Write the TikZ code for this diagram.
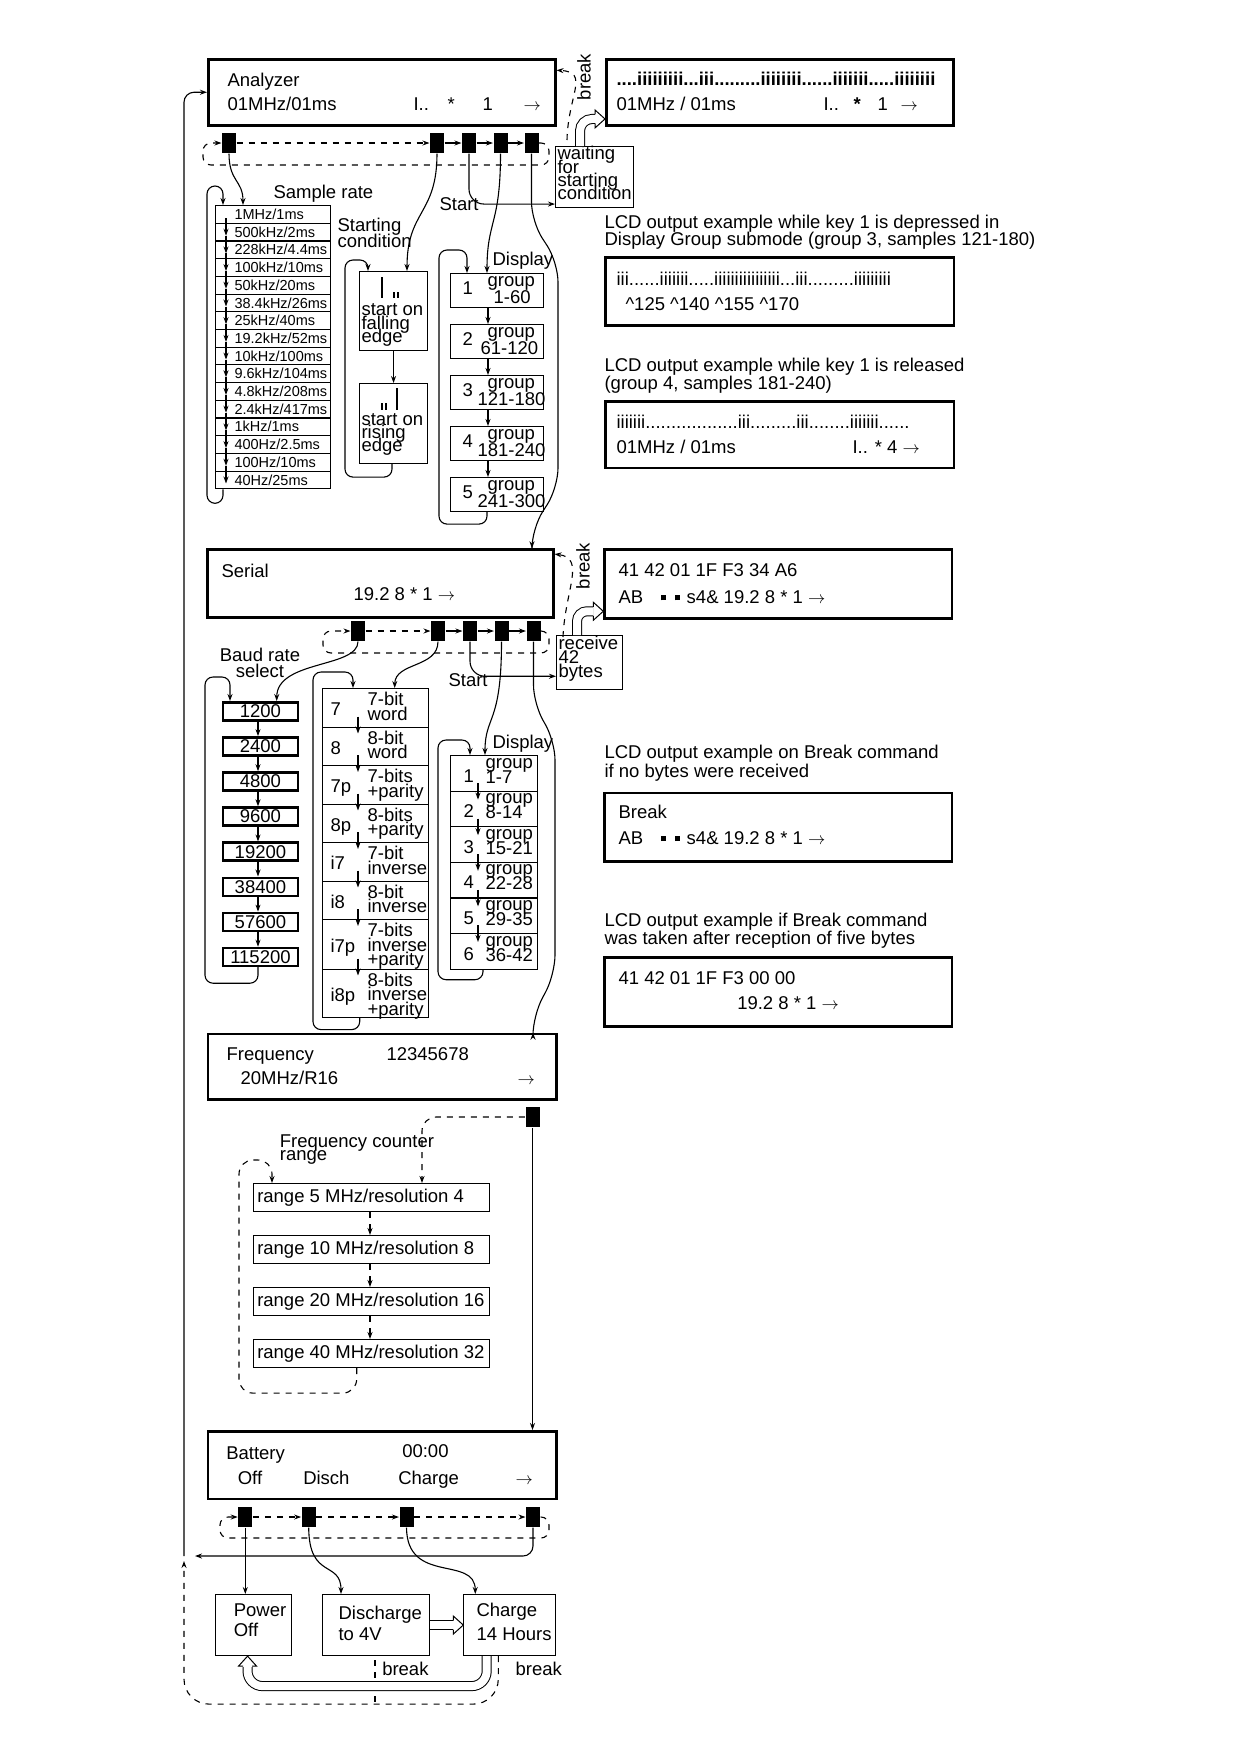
\documentclass[tikz,border=0pt]{standalone}
\usepackage{fontspec}
\setmainfont{Liberation Sans}
\usetikzlibrary{arrows.meta}
\newcommand\tightfont[1]{\fontsize{18.5}{#1}\selectfont\lineskiplimit=-30pt\relax}
\newcommand\hollowtip[2]{\draw[line width=1pt,fill=white,shift={#1},rotate=#2]
  (-10,-4.5) -- (-10,-9) -- (0,0) -- (-10,9) -- (-10,4.5);}
\newcommand\abline{AB\hspace{18pt}\rule[3pt]{5pt}{5pt}\hspace{9pt}\rule[3pt]{5pt}{5pt}\hspace{6.5pt}s4\& 19.2 8 * 1 $\rightarrow$}

\begin{document}
\begin{tikzpicture}[x=1pt,y=-1pt,>={Stealth[length=7pt,width=5pt]},line width=1.1pt,
  font=\fontsize{18.5}{22}\selectfont,
  dashed/.style={dash pattern=on 6pt off 6pt},
  lcd/.style={draw,line width=2.5pt,anchor=north west,inner sep=0pt},
  frm/.style={draw,anchor=north west,inner sep=0pt},
  btn/.style={fill=black,minimum width=14pt,minimum height=20pt,inner sep=0pt},
  lbl/.style={anchor=base west,inner sep=0pt},
  ml/.style={align=left,anchor=north west,inner sep=0pt,font=\tightfont{#1},
    execute at begin node={\rule{0pt}{14pt}}},
  ml/.default=14,
  srow/.style={frm,minimum width=115pt,minimum height=17.7pt,text width=113pt,
    inner xsep=1pt,align=left,font=\fontsize{14.5}{16}\selectfont},
  baud/.style={frm,line width=2.5pt,minimum width=75pt,minimum height=18pt},
  hollow/.style={line width=1pt,double=white,double distance=8pt}]
\useasboundingbox (0,0) rectangle (1246,1741);

% analyzer
\node[lcd,minimum width=347pt,minimum height=66pt] (an) at (207,58) {};
\node[lbl] (an1) at (227,86) {Analyzer};
\node[lbl] (an2) at (227,110) {01MHz/01ms};
\node[lbl] (an3) at (413,110) {I..};
\node[lbl] (an4) at (447,110) {*};
\node[lbl] (an5) at (482,110) {1};
\node[lbl] (an6) at (523,110) {$\rightarrow$};
\foreach \x [count=\i] in {229,437,469,500.5,531.5}
  \node[btn] (ak\i) at (\x,143) {};
\draw[dashed,->,rounded corners=8pt] (ak5.east) -- (549,143) -- (549,165) -- (203,165) -- (203,143) -- (ak1.west);
\draw[dashed,->] (ak1) -- (ak2);
\foreach \i/\j in {2/3,3/4,4/5} \draw[->] (ak\i) -- (ak\j);

\node[lcd,minimum width=347pt,minimum height=66pt] (lcda) at (605,58) {};
\node[lbl,font=\fontsize{18.5}{22}\selectfont\bfseries] (la1) at (616,85) {....iiiiiiiii...iii.........iiiiiiii......iiiiiii.....iiiiiiii};
\node[lbl] (la2) at (616,110) {01MHz / 01ms};
\node[lbl] (la3) at (823,110) {I..};
\node[lbl,font=\fontsize{18.5}{22}\selectfont\bfseries] (la4) at (853,110) {*};
\node[lbl] (la5) at (877,110) {1};
\node[lbl] (la6) at (900,110) {$\rightarrow$};
\node[rotate=90,inner sep=0pt] (bra) at (584,77) {break};
\coordinate (bka) at (567,140);
\draw[dashed,->] (bka) .. controls (568,95) and (590,72) .. ([yshift=22pt]an.east);

\node[frm,minimum width=78pt,minimum height=61pt] (wt) at (555,146) {};
\node[ml=13.3] (wtt) at (557,146) {waiting\\for\\starting\\condition};
\draw[hollow,rounded corners=12pt] ([xshift=25pt]wt.north west) |- ([xshift=-10pt,yshift=-26.7pt]lcda.west);
\hollowtip{([yshift=-26.7pt]lcda.west)}{0}

\node[ml=16.5] (d1) at (604,215) {LCD output example while key 1 is depressed in\\Display Group submode (group 3, samples 121-180)};
\node[lcd,minimum width=348.7pt,minimum height=68pt] (lcdb) at (604,256) {};
\node[lbl] (lb1) at (616,285) {iii......iiiiiii.....iiiiiiiiiiiiiiii...iii.........iiiiiiiii};
\node[lbl] (lb2) at (625,310.7) {\textasciicircum125 \textasciicircum140 \textasciicircum155 \textasciicircum170};
\node[ml=17.5] (d2) at (604,357.7) {LCD output example while key 1 is released\\(group 4, samples 181-240)};
\node[lcd,minimum width=348.7pt,minimum height=66.7pt] (lcdc) at (604,400) {};
\node[lbl] (lc1) at (616,428.3) {iiiiiii..................iii.........iii........iiiiiii......};
\node[lbl] (lc2) at (616,453.3) {01MHz / 01ms};
\node[lbl] (lc3) at (852,453.3) {I.. * 4 $\rightarrow$};

% sample rate
\node[lbl] (srl) at (273,198) {Sample rate};
\foreach \rt [count=\i from 0] in {1MHz/1ms,500kHz/2ms,228kHz/4.4ms,100kHz/10ms,50kHz/20ms,
  38.4kHz/26ms,25kHz/40ms,19.2kHz/52ms,10kHz/100ms,9.6kHz/104ms,4.8kHz/208ms,
  2.4kHz/417ms,1kHz/1ms,400Hz/2.5ms,100Hz/10ms,40Hz/25ms}
  \node[srow] (s\i) at (215,{205+17.7*\i}) {\hspace*{18pt}\rt};
\foreach \i [remember=\i as \j (initially 0)] in {1,...,15}
  \draw[->] ([xshift=11pt,yshift=-13pt]s\j.north west) -- ([xshift=11pt,yshift=-13pt]s\i.north west);
\draw[->,rounded corners=8pt] ([xshift=8pt]s15.south west) -- ++(0,14) -| (207,186) -| ([xshift=8pt]s0.north west);
\draw[->] (ak1.south) .. controls (229,182) and (243,180) .. ([xshift=28pt]s0.north west);

% starting condition
\node[ml=15.6] (scl) at (337,217.7) {Starting\\condition};
\node[frm,minimum width=68pt,minimum height=79pt] (fe) at (359,271) {};
\draw[line width=1.6pt] (382,277) -- (382,298) (394,292) -- (394,298) (398,292) -- (398,298);
\node[ml=13.5] (fet) at (361,303) {start on\\falling\\edge};
\node[frm,minimum width=68pt,minimum height=80pt] (re) at (359,383) {};
\draw[line width=1.6pt] (382,403) -- (382,410) (386,403) -- (386,410) (397,388) -- (397,410);
\node[ml=13.3] (rtx) at (361,412.7) {start on\\rising\\edge};
\draw[->] (fe.south) -- (re.north);
\draw[->,rounded corners=8pt] ([xshift=33pt]re.south west) -- ++(0,13) -| (345,260) -| ([xshift=9pt]fe.north west);
\draw[->] (ak2.south) .. controls (437,215) and (407,210) .. ([xshift=48pt]fe.north west);

% display groups
\node[lbl] (sta) at (439,210.7) {Start};
\draw[->,rounded corners=15pt] (ak3.south) |- ([yshift=-27pt]wt.west);
\node[lbl] (dla) at (492,265) {Display};
\foreach \k/\g/\gx [count=\i] in {1/1-60/493,2/61-120/480,3/121-180/477,4/181-240/477,5/241-300/477}{
  \node[frm,minimum width=93pt,minimum height=34pt] (ag\i) at (450,{273+51*(\i-1)}) {};
  \node[lbl] (agn\i) at (462,{294+51*(\i-1)}) {\k};
  \node[lbl] (agg\i) at (487,{286+51*(\i-1)}) {group};
  \node[lbl] (agr\i) at (\gx,{303+51*(\i-1)}) {\g};
}
\foreach \i [remember=\i as \j (initially 1)] in {2,...,5}
  \draw[->] ([xshift=38pt]ag\j.south west) -- ([xshift=38pt]ag\i.north west);
\draw[->,rounded corners=8pt] ([xshift=37pt]ag5.south west) -- ++(0,12) -| (439,250) -| ([xshift=17pt]ag1.north west);
\draw[->] (ak4.south) .. controls (500.5,225) and (487,220) .. ([xshift=37pt]ag1.north west);

% serial
\node[lcd,minimum width=346pt,minimum height=68pt] (se) at (206,548.3) {};
\node[lbl] (se1) at (221,577.3) {Serial};
\node[lbl] (se2) at (353,600.7) {19.2 8 * 1 $\rightarrow$};
\draw[->,rounded corners=20pt] (ak5.south) -- (531.5,222) -- (558,262) -- (558,488) -- (532,528) -- (se.north -| 532,0);
\foreach \x [count=\i] in {358,438,470,501.5,533.5}
  \node[btn] (sk\i) at (\x,631) {};
\draw[dashed,->,rounded corners=8pt] (sk5.east) -- (549,631) -- (549,653) -- (323,653) -- (323,631) -- (sk1.west);
\draw[dashed,->] (sk1) -- (sk2);
\foreach \i/\j in {2/3,3/4,4/5} \draw[->] (sk\i) -- (sk\j);
\node[rotate=90,inner sep=0pt] (brs) at (583,566) {break};
\coordinate (bks) at (563,637);
\draw[dashed,->] (bks) .. controls (565,590) and (586,558) .. ([yshift=29.5pt]se.east);

\node[frm,minimum width=66pt,minimum height=54pt] (rc) at (556,635) {};
\node[ml=14.3] (rct) at (558,635.3) {receive\\42\\bytes};
\node[lcd,minimum width=347.4pt,minimum height=69pt] (lcdd) at (603.3,548.3) {};
\node[lbl] (ld1) at (618,576) {41 42 01 1F F3 34 A6};
\node[lbl] (ld2) at (618,603.3) {\abline};
\draw[hollow,rounded corners=10pt] ([xshift=21pt]rc.north west) |- ([xshift=-10pt,yshift=-27.2pt]lcdd.west);
\hollowtip{([yshift=-27.2pt]lcdd.west)}{0}

\node[ml=19] (d3) at (604,744.3) {LCD output example on Break command\\if no bytes were received};
\node[lcd,minimum width=347.4pt,minimum height=68.3pt] (lcde) at (603.3,791.7) {};
\node[lbl] (le1) at (618,818.3) {Break};
\node[lbl] (le2) at (618,844) {\abline};
\node[ml=18] (d4) at (604,912.5) {LCD output example if Break command\\was taken after reception of five bytes};
\node[lcd,minimum width=347.4pt,minimum height=69pt] (lcdf) at (603.3,956) {};
\node[lbl] (lf1) at (618,984) {41 42 01 1F F3 00 00};
\node[lbl] (lf2) at (736.7,1009.3) {19.2 8 * 1 $\rightarrow$};

% baud rate
\node[ml=15.6,align=center] (bdl) at (219.3,647.7) {Baud rate\\select};
\foreach \v [count=\i from 0] in {1200,2400,4800,9600,19200,38400,57600,115200}
  \node[baud] (b\i) at (221.7,{701+35.1*\i}) {\v};
\foreach \i [remember=\i as \j (initially 0)] in {1,...,7}
  \draw[->] ([xshift=36.3pt]b\j.south west) -- ([xshift=36.3pt]b\i.north west);
\draw[->,rounded corners=8pt] ([xshift=36.3pt]b7.south west) -- ++(0,16) -| (205,677) -| ([xshift=8.3pt]b0.north west);
\draw[->] (sk1.south) .. controls (358,668) and (277,660) .. ([xshift=55pt]b0.north west);

% word format
\foreach \i/\tp/\hh/\cd/\ds in {0/688/38.5/7/7-bit\\word,1/726.5/38.5/8/8-bit\\word,
  2/765/38.5/7p/7-bits\\+parity,3/803.5/38.5/8p/8-bits\\+parity,
  4/842/38.5/i7/7-bit\\inverse,5/880.5/38.5/i8/8-bit\\inverse,
  6/919/49.5/i7p/7-bits\\inverse\\+parity,7/968.5/48/i8p/8-bits\\inverse\\+parity}{
  \node[frm,minimum width=106pt,minimum height=\hh pt] (w\i) at (321.7,\tp) {};
  \node[lbl] (wc\i) at (330,{\tp+\hh/2+8.5}) {\cd};
  \node[ml=14.5] (wd\i) at (367,{\tp+4}) {\ds};
}
\foreach \i in {1,...,7}
  \draw[->] ([xshift=36.3pt,yshift=10pt]w\i.north west) -- ([xshift=36.3pt,yshift=-7pt]w\i.north west);
\draw[->,rounded corners=8pt] ([xshift=38pt]w7.south west) -- ++(0,12) -| (313,672) -| ([xshift=31.3pt]w0.north west);
\draw[->] (sk2.south) .. controls (438,668) and (395,662) .. ([xshift=73pt]w0.north west);

% serial display
\node[lbl] (sts) at (448,686.7) {Start};
\draw[->,rounded corners=15pt] (sk3.south) |- ([yshift=-13.7pt]rc.west);
\node[lbl] (dls) at (492,748.3) {Display};
\foreach \g [count=\i] in {1-7,8-14,15-21,22-28,29-35,36-42}{
  \node[frm,minimum width=87pt,minimum height=35.6pt] (dg\i) at (450,{755+35.6*(\i-1)}) {};
  \node[lbl] (dgn\i) at (463,{782+35.6*(\i-1)}) {\i};
  \node[lbl] (dgg\i) at (485,{768+35.6*(\i-1)}) {group};
  \node[lbl] (dgr\i) at (485,{783+35.6*(\i-1)}) {\g};
}
\foreach \i [remember=\i as \j (initially 1)] in {2,...,6}
  \draw[->] ([xshift=28pt,yshift=-28pt]dg\j.north west) -- ([xshift=28pt,yshift=-9pt]dg\i.north west);
\draw[->,rounded corners=8pt] ([xshift=33pt]dg6.south west) -- ++(0,10) -| (438,740) -| ([xshift=20pt]dg1.north west);
\draw[->] (sk4.south) .. controls (501.5,725) and (485,715) .. ([xshift=35pt]dg1.north west);

% frequency
\node[lcd,minimum width=348.3pt,minimum height=65.6pt] (fq) at (206.7,1032.7) {};
\node[lbl] (fq1) at (226,1060.7) {Frequency};
\node[lbl] (fq2) at (386,1060.7) {12345678};
\node[lbl] (fq3) at (240,1084) {20MHz/R16};
\node[lbl] (fq4) at (517,1084) {$\rightarrow$};
\draw[->,rounded corners=20pt] (sk5.south) -- (533.5,705) -- (555,740) -- (555,975) -- (533,1015) -- (fq.north -| 533,0);
\node[btn] (fk) at (532.5,1117) {};
\node[ml=13.4] (fcl) at (279.3,1134.3) {Frequency counter\\range};
\foreach \t [count=\i from 0] in {range 5 MHz/resolution 4,range 10 MHz/resolution 8,
  range 20 MHz/resolution 16,range 40 MHz/resolution 32}
  \node[frm,minimum height=28pt,inner xsep=4pt] (r\i) at (252.7,{1183+52*\i}) {\makebox[228pt][l]{\t}};
\foreach \i [remember=\i as \j (initially 0)] in {1,2,3}
  \draw[dashed,->] ([xshift=117.3pt]r\j.south west) -- ([xshift=117.3pt]r\i.north west);
\draw[dashed,->,rounded corners=14pt] ([xshift=104pt]r3.south west) -- ++(0,25) -| (239,1160) -| ([xshift=19.3pt]r0.north west);
\draw[dashed,->,rounded corners=14pt] (fk.west) -| ([xshift=169.3pt]r0.north west);

% battery
\node[lcd,minimum width=348.3pt,minimum height=67.7pt] (ba) at (206.7,1430) {};
\node[lbl] (ba1) at (225.7,1459.3) {Battery};
\node[lbl] (ba2) at (401.7,1457.3) {00:00};
\node[lbl] (ba3) at (237.3,1484) {Off};
\node[lbl] (ba4) at (302.7,1484) {Disch};
\node[lbl] (ba5) at (397.7,1484) {Charge};
\node[lbl] (ba6) at (515,1484) {$\rightarrow$};
\draw[->] (fk.south) -- (fk.south |- ba.north);
\foreach \x [count=\i] in {245.3,308.7,406.5,533}
  \node[btn] (bk\i) at (\x,1517) {};
\draw[dashed,->,rounded corners=8pt] (bk4.east) -- (549,1517) -- (549,1538) -- (220,1538) -- (220,1517) -- (bk1.west);
\foreach \i/\j in {1/2,2/3,3/4} \draw[dashed,->] (bk\i) -- (bk\j);

\node[frm,minimum width=76pt,minimum height=61pt] (po) at (215,1594) {};
\node[ml=20] (pot) at (233.3,1603.3) {Power\\Off};
\node[frm,minimum width=107pt,minimum height=61pt] (dc) at (322.3,1594) {};
\node[ml=20.7] (dct) at (338,1606) {Discharge\\to 4V};
\node[frm,minimum width=91.7pt,minimum height=61pt] (ch) at (463.3,1594) {};
\node[ml=24] (cht) at (476,1602.7) {Charge\\14 Hours};
\node[lbl] (bkd) at (381.7,1675) {break};
\node[lbl] (bkc) at (515,1675) {break};

\draw[->] (bk1.south) -- (bk1.south |- po.north);
\draw[->] (bk2.south) .. controls (309,1580) and (341,1560) .. ([xshift=18.7pt]dc.north west);
\draw[->] (bk3.south) .. controls (407,1585) and (475,1555) .. ([xshift=12pt]ch.north west);
\coordinate (back) at (184,1556);
\draw[->,rounded corners=10pt] (bk4.south) |- ([xshift=11pt]back);
\draw[->,rounded corners=10pt] (back) |- (an.west);
\draw[dashed,->,rounded corners=25pt] ([xshift=35pt]ch.south west) -- ++(0,48) -| ([yshift=-5pt]back);
\draw[dashed] ([xshift=52.7pt,yshift=-4pt]dc.south west) -- ++(0,44);

\draw[hollow] (dc.east) -- ([xshift=-10pt]ch.west);
\hollowtip{(ch.west)}{0}
\draw[hollow,rounded corners=15pt] ([xshift=23.4pt]ch.south west) -- ++(0,30) -| ([xshift=-6pt,yshift=-11pt]po.south);
\hollowtip{([xshift=-6pt]po.south)}{90}
\end{tikzpicture}
\end{document}
